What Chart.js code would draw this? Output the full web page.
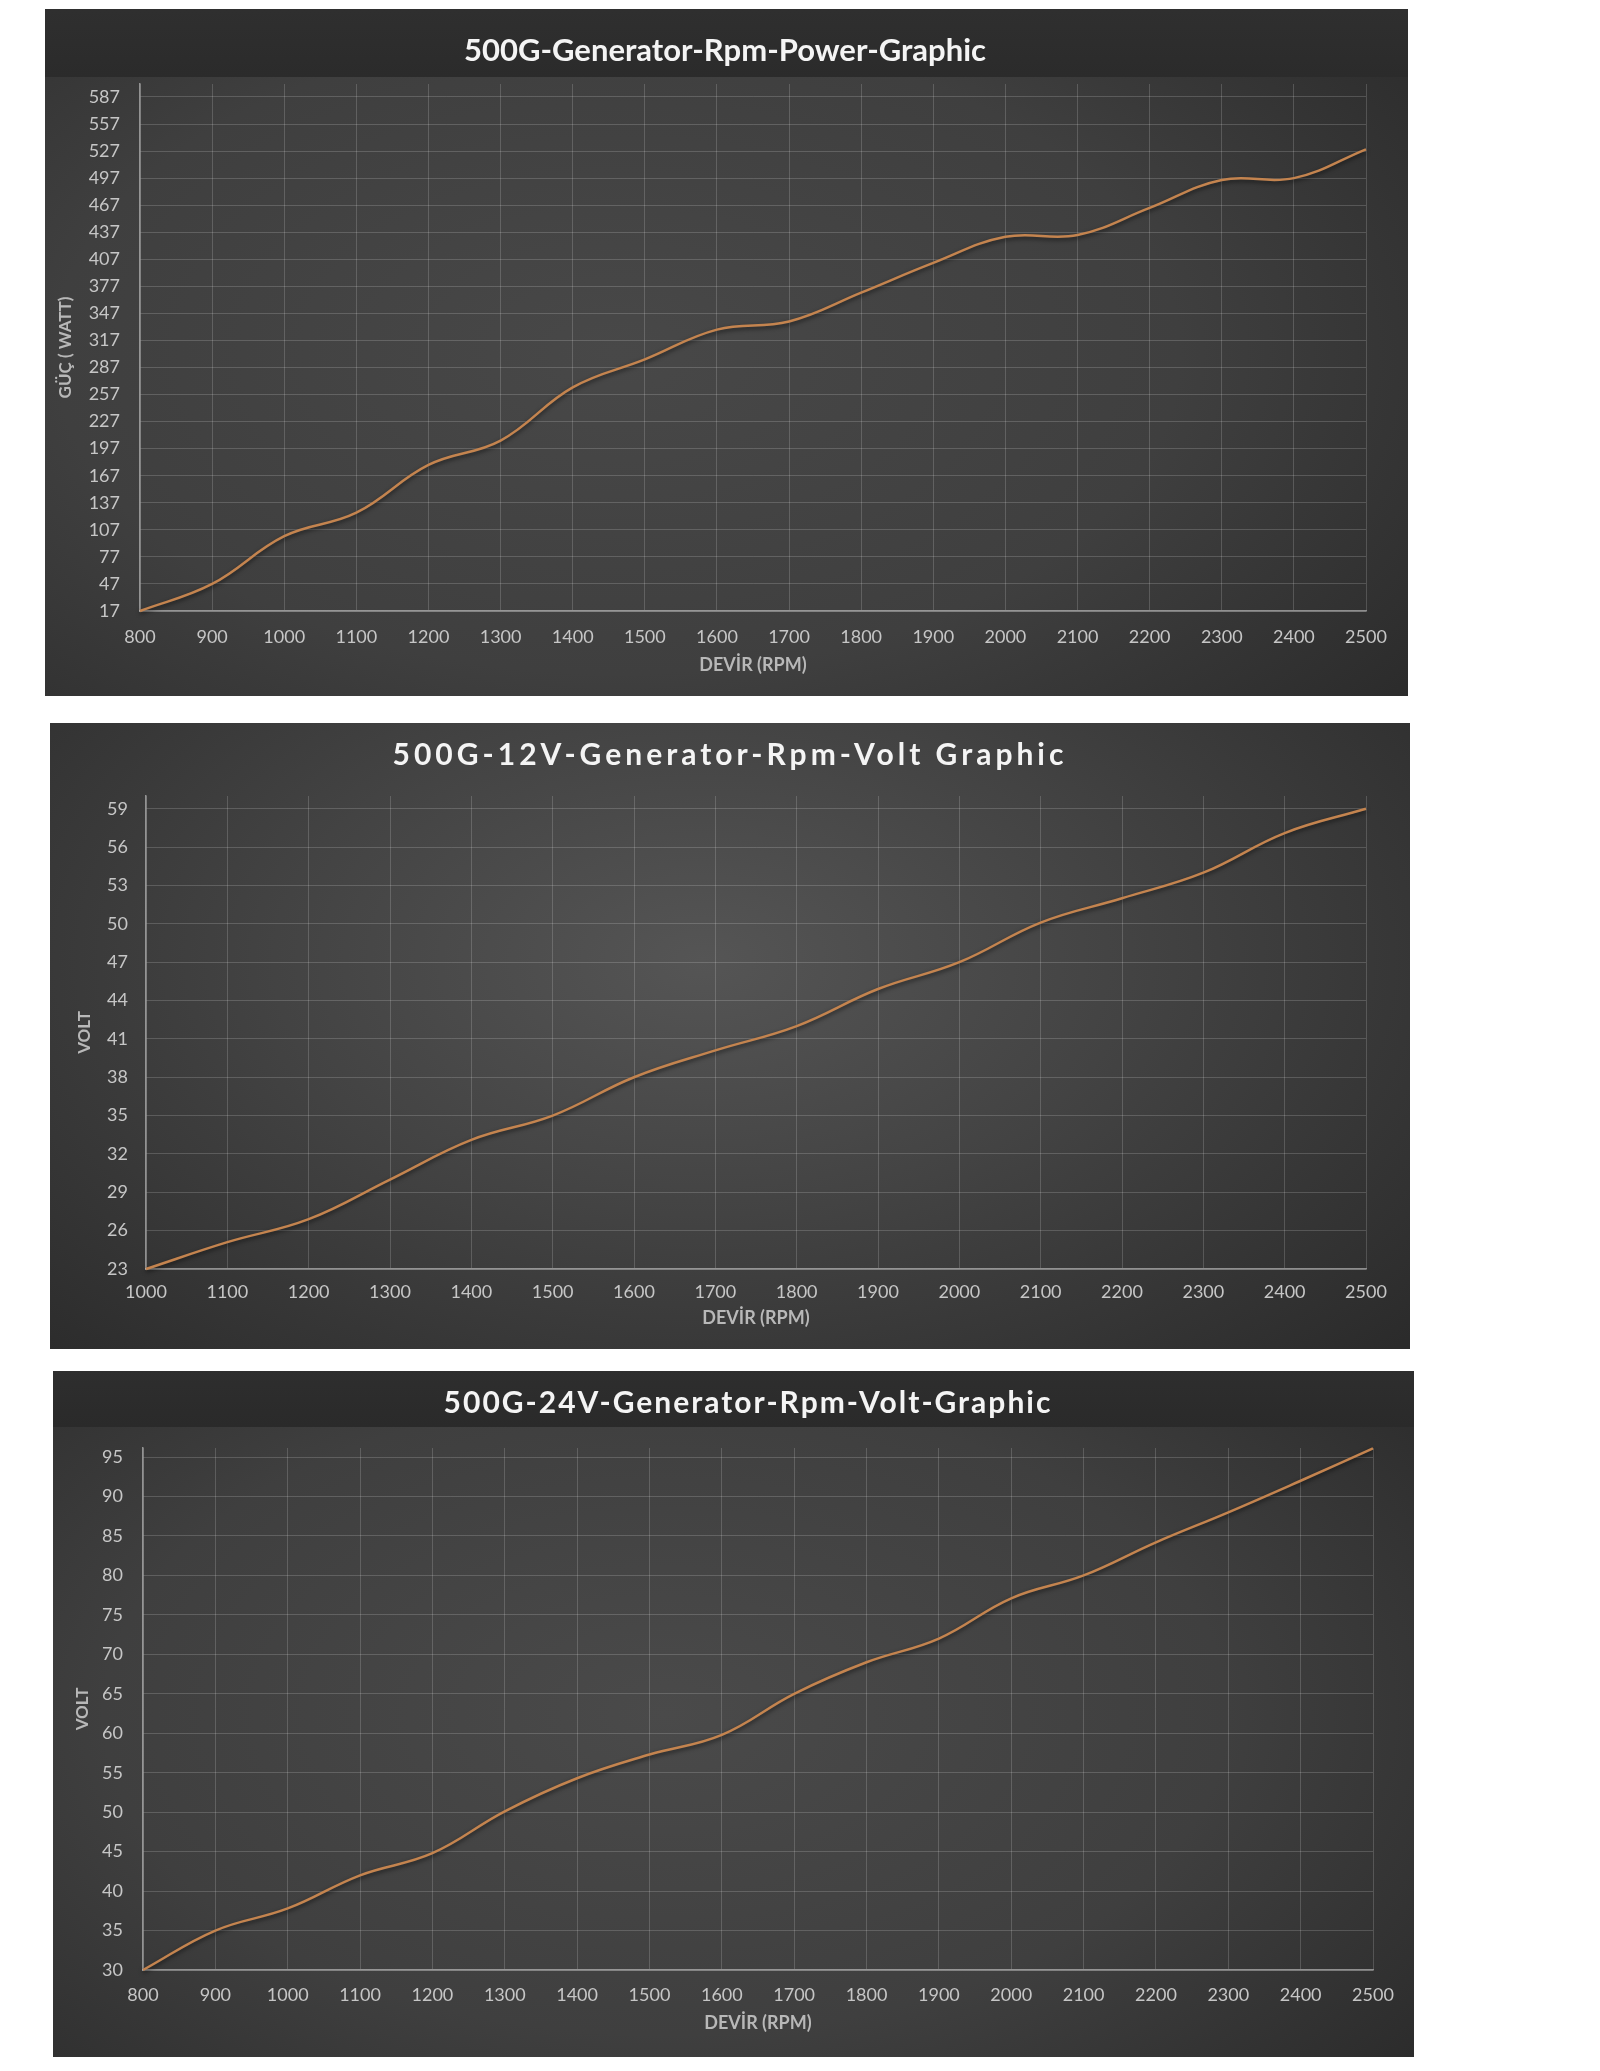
<!DOCTYPE html>
<html>
<head>
<meta charset="utf-8">
<title>500G Generator Graphics</title>
<script src="https://cdn.jsdelivr.net/npm/chart.js@4.4.1/dist/chart.umd.min.js"></script>
<style>
  body { margin: 0; background: #ffffff; }
  #page { position: relative; width: 1600px; height: 2071px; overflow: hidden; }
  .panel { position: absolute; overflow: hidden; }
  .panel canvas { position: absolute; left: 0; top: 0; }
  .ttl {
    position: absolute; transform: translate(-50%, -50%);
    color: #f4f4f4; font-family: Lato, sans-serif; font-weight: 700;
    line-height: 1; white-space: nowrap;
  }
  #p1 { left: 45px; top: 9px; width: 1363px; height: 687px;
    background:
      linear-gradient(#2f2f2f, #2b2b2b) top / 100% 68px no-repeat,
      radial-gradient(ellipse 75% 85% at 42% 50%, #484848 0%, #3f3f3f 55%, #2a2a2a 100%); }
  #p2 { left: 50px; top: 723px; width: 1360px; height: 626px;
    background: radial-gradient(ellipse 70% 90% at 48% 38%, #555555 0%, #434343 45%, #2b2b2b 100%); }
  #p3 { left: 53px; top: 1371px; width: 1361px; height: 686px;
    background:
      linear-gradient(#2e2e2e, #2a2a2a) top / 100% 56px no-repeat,
      radial-gradient(ellipse 75% 85% at 45% 50%, #4a4a4a 0%, #3f3f3f 55%, #292929 100%); }
</style>
</head>
<body>
<div id="page">
  <div class="panel" id="p1">
    <canvas id="powerChart" width="1363" height="687"></canvas>
    <div class="ttl" style="left:680px; top:40px; font-size:31px;">500G-Generator-Rpm-Power-Graphic</div>
  </div>
  <div class="panel" id="p2">
    <canvas id="volt12Chart" width="1360" height="626"></canvas>
    <div class="ttl" style="left:680px; top:30px; font-size:30px; letter-spacing:4px;">500G-12V-Generator-Rpm-Volt Graphic</div>
  </div>
  <div class="panel" id="p3">
    <canvas id="volt24Chart" width="1361" height="686"></canvas>
    <div class="ttl" style="left:695px; top:30px; font-size:30px; letter-spacing:2px;">500G-24V-Generator-Rpm-Volt-Graphic</div>
  </div>
</div>
<script>
// --- data read from the graphics ---
var powerRpm = [800, 900, 1000, 1100, 1200, 1300, 1400, 1500, 1600, 1700, 1800, 1900, 2000, 2100, 2200, 2300, 2400, 2500];
var powerWatt = [17, 47, 100, 126, 179, 206, 265, 296, 329, 338, 370, 403, 432, 434, 464, 495, 497, 529];
var powerTicks = [17, 47, 77, 107, 137, 167, 197, 227, 257, 287, 317, 347, 377, 407, 437, 467, 497, 527, 557, 587];

var volt12Rpm = [1000, 1100, 1200, 1300, 1400, 1500, 1600, 1700, 1800, 1900, 2000, 2100, 2200, 2300, 2400, 2500];
var volt12 = [23, 25.1, 26.9, 30, 33.1, 35, 38, 40.1, 42, 44.9, 47, 50.1, 52, 54, 57.1, 59];
var volt12Ticks = [23, 26, 29, 32, 35, 38, 41, 44, 47, 50, 53, 56, 59];

var volt24Rpm = [800, 900, 1000, 1100, 1200, 1300, 1400, 1500, 1600, 1700, 1800, 1900, 2000, 2100, 2200, 2300, 2400, 2500];
var volt24 = [30, 35, 37.8, 42, 44.8, 50.1, 54.3, 57.3, 59.8, 65, 69, 72, 77.1, 80, 84.2, 88, 92, 96.1];
var volt24Ticks = [30, 35, 40, 45, 50, 55, 60, 65, 70, 75, 80, 85, 90, 95];

var lineColor = '#c4844f';
var gridColor = 'rgba(255,255,255,0.17)';
var axisColor = 'rgba(255,255,255,0.45)';
var tickColor = '#c6c6c6';
var axisTitleColor = '#b8b8b8';

// soft shadow under the line, like the office chart
var lineShadow = {
  id: 'lineShadow',
  beforeDatasetsDraw: function(chart) {
    var c = chart.ctx;
    c.save();
    c.shadowColor = 'rgba(0,0,0,0.6)';
    c.shadowBlur = 4;
    c.shadowOffsetY = 2;
  },
  afterDatasetsDraw: function(chart) {
    chart.ctx.restore();
  }
};

function buildChart(id, rpm, values, yTicks, s) {
  var points = [];
  for (var i in rpm) {
    points.push({ x: rpm[i], y: values[i] });
  }

  var ctx = document.getElementById(id);
  return new Chart(ctx, {
    type: 'line',
    data: {
      datasets: [{
        data: points,
        borderColor: lineColor,
        borderWidth: 2.5,
        pointRadius: 0,
        tension: 0.4,
        fill: false,
        clip: false
      }]
    },
    options: {
      responsive: false,
      animation: false,
      devicePixelRatio: 1,
      layout: { padding: { left: 0, top: s.top, right: s.right, bottom: 0 } },
      plugins: {
        legend: { display: false },
        tooltip: { enabled: false },
        title: { display: false }
      },
      scales: {
        x: {
          type: 'linear',
          min: rpm[0],
          max: rpm[rpm.length - 1],
          afterBuildTicks: function(sc) { sc.ticks = rpm.map(function(v) { return { value: v }; }); },
          afterFit: function(sc) { sc.height = s.xH; },
          grid: { color: gridColor, lineWidth: 1, drawTicks: false },
          border: { color: axisColor, width: 1.5 },
          ticks: {
            color: tickColor,
            font: { family: 'Lato', size: 18 },
            padding: s.xPad,
            maxRotation: 0,
            autoSkip: false,
            callback: function(v) { return String(v); }
          },
          title: {
            display: true,
            text: 'DEVİR (RPM)',
            color: axisTitleColor,
            font: { family: 'Lato', size: 18, weight: 'bold' },
            padding: { top: 0, bottom: s.xTitlePad }
          }
        },
        y: {
          min: yTicks[0],
          max: s.yMax,
          afterBuildTicks: function(sc) { sc.ticks = yTicks.map(function(v) { return { value: v }; }); },
          afterFit: function(sc) { sc.width = s.yW; },
          grid: { color: gridColor, lineWidth: 1, drawTicks: false },
          border: { color: axisColor, width: 1.5 },
          ticks: {
            color: tickColor,
            font: { family: 'Lato', size: 18 },
            padding: s.yPad,
            callback: function(v) { return String(v); }
          },
          title: {
            display: true,
            text: s.yTitle,
            color: axisTitleColor,
            font: { family: 'Lato', size: 17, weight: 'bold' },
            padding: { top: s.yTitlePad, bottom: 0 }
          }
        }
      }
    },
    plugins: [lineShadow]
  });
}

function drawAll() {
  buildChart('powerChart', powerRpm, powerWatt, powerTicks, {
    top: 75, right: 42, xH: 85, yW: 95, yMax: 601.4,
    xPad: 15, xTitlePad: 20, yPad: 20, yTitlePad: 10, yTitle: 'GÜÇ ( WATT)'
  });
  buildChart('volt12Chart', volt12Rpm, volt12, volt12Ticks, {
    top: 73, right: 44, xH: 80, yW: 96, yMax: 60,
    xPad: 12, xTitlePad: 20, yPad: 18, yTitlePad: 24, yTitle: 'VOLT'
  });
  buildChart('volt24Chart', volt24Rpm, volt24, volt24Ticks, {
    top: 77, right: 41, xH: 87, yW: 90, yMax: 96.15,
    xPad: 14, xTitlePad: 23, yPad: 20, yTitlePad: 19, yTitle: 'VOLT'
  });
}

Promise.all([
  document.fonts.load('18px Lato'),
  document.fonts.load('bold 18px Lato')
]).then(drawAll, drawAll);
</script>
</body>
</html>
